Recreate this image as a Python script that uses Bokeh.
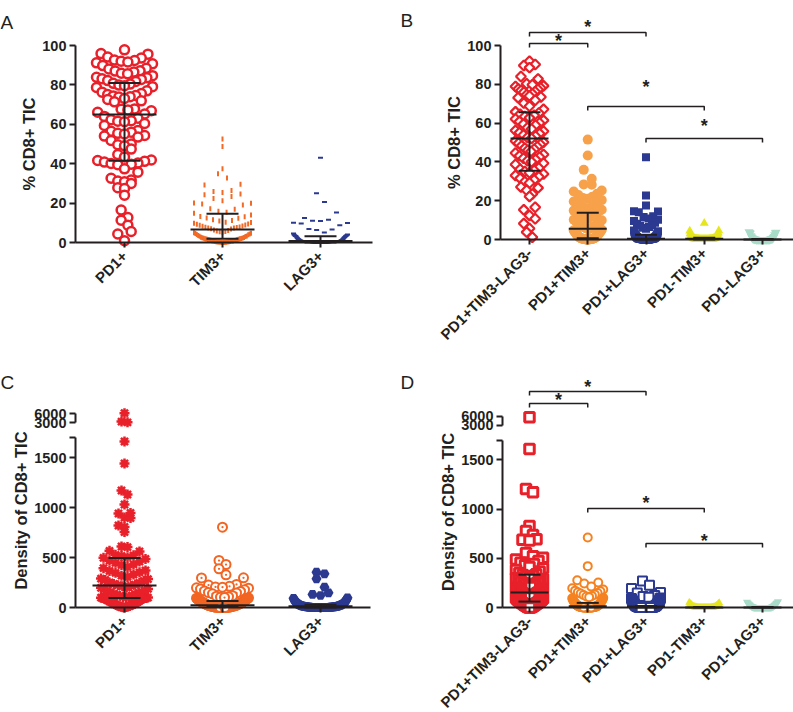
import math
import numpy as np
from bokeh.plotting import figure
from bokeh.models import FixedTicker, LinearAxis
from bokeh.layouts import row, column
from bokeh.embed import file_html
from bokeh.resources import INLINE
from bokeh.core.properties import value

# ------------------------------------------------------------------ data
CATS_3 = ["PD1+", "TIM3+", "LAG3+"]
CATS_5 = ["PD1+TIM3-LAG3-", "PD1+TIM3+", "PD1+LAG3+", "PD1-TIM3+", "PD1-LAG3+"]
PCT_TICKS = [0, 20, 40, 60, 80, 100]
DEN_TICKS = [0, 500, 1000, 1500]
DEN_LOW_TOP = 1700                 # end of the lower axis segment
DEN_BREAK_TICKS = [3000, 6000]     # compressed upper segment
Y_LABEL_PCT = "% CD8+ TIC"
Y_LABEL_DEN = "Density of CD8+ TIC"
SIG_PAIRS = [(1, 2), (1, 3), (2, 4), (3, 5)]
SIG_TEXT = "*"

A_PD1 = [97.8, 95.9, 95.6, 94.1, 93.6, 92.6, 92.4, 92.0, 91.6, 91.2, 90.7, 89.8,
         88.4, 88.1, 87.2, 87.0, 86.5, 85.9, 85.6, 84.7, 83.9, 83.6,
         83.1, 82.8, 82.2, 81.7, 80.8, 80.4, 79.9, 79.6, 79.1, 78.7,
         77.0, 76.3, 75.6, 75.1, 74.6, 74.4, 74.0, 73.8, 73.1, 72.6, 71.9, 71.4,
         67.8, 67.6, 67.3, 66.9, 66.1, 65.2, 64.0, 63.1,
         62.3, 61.8, 61.6, 61.3, 60.4, 59.4,
         56.8, 56.5, 56.0, 55.4, 55.1, 54.3, 54.0, 53.5, 51.8,
         50.0, 49.6, 49.1, 47.4, 44.7,
         43.4, 41.9, 41.6, 41.2, 40.8, 40.3, 40.1, 39.7, 39.5, 37.4, 35.7,
         32.6, 31.7, 31.2, 30.8, 30.0, 27.8, 27.4,
         24.0, 16.5, 12.7, 11.3, 8.8, 5.6, 4.3, 0.9]
A_TIM3 = [52.6, 48.7, 37.4, 34.9, 32.8, 29.6, 29.2, 26.4, 25.9, 25.4, 24.6, 24.2,
          23.4, 22.3, 21.2, 20.1, 19.9, 19.6, 19.0, 17.1, 16.9, 15.8, 15.3, 14.9,
          13.9, 13.2, 13.1, 12.5, 12.3, 11.6, 11.2, 10.9, 10.3, 10.1, 9.8, 9.4,
          9.3, 8.9, 8.7, 8.4, 8.2, 7.9, 7.8, 7.6, 7.4, 7.3, 7.0, 6.8,
          6.4, 6.1, 5.9, 5.6, 5.5, 5.2, 5.0, 4.7, 4.6, 4.3, 4.0, 3.9,
          3.6, 3.3, 3.2, 3.0, 2.7, 2.6, 2.4, 2.3, 2.2, 2.0, 1.9, 1.9,
          1.8, 1.6, 1.5, 1.4, 1.4, 1.2, 1.1, 1.0, 0.9, 0.8, 0.7, 0.7,
          0.6, 0.5, 0.4, 0.4, 0.3, 0.3, 0.2, 0.1, 0.1, 0.0, 0.0, 0.0]
A_LAG3 = [43.0, 25.0, 20.5, 15.2, 12.4, 11.5, 11.0, 10.9, 10.0, 9.9, 9.6, 8.8,
          6.9, 6.6, 6.3, 5.1, 4.6, 4.1, 3.9, 3.7, 3.5, 3.4, 3.3, 3.2,
          3.0, 2.8, 2.6, 2.4, 2.2, 2.0, 1.8, 1.6, 1.5, 1.3, 1.2, 1.1,
          1.0, 0.9, 0.9, 0.8, 0.8, 0.8, 0.7, 0.7, 0.7, 0.7, 0.7, 0.7,
          0.6, 0.6, 0.6, 0.5, 0.5, 0.5, 0.5, 0.4, 0.4, 0.4, 0.4, 0.3,
          0.3, 0.3, 0.3, 0.3, 0.2, 0.2, 0.2, 0.2, 0.2, 0.2, 0.1, 0.1,
          0.1, 0.1, 0.1, 0.1, 0.1, 0.0, 0.0, 0.0, 0.0, 0.0, 0.0, 0.0,
          0.0, 0.0, 0.0, 0.0, 0.0, 0.0, 0.0, 0.0, 0.0, 0.0, 0.0, 0.0]
A_MED = [65.0, 6.6, 0.7]
A_Q1 = [41.5, 1.9, 0.0]
A_Q3 = [81.0, 14.6, 3.2]

B_TN = [91.9, 90.2, 89.7, 88.6, 84.0, 82.8,
        80.3, 79.8, 79.2, 78.9, 78.1, 77.6, 77.3, 76.8, 76.2, 75.9, 75.1, 74.6, 74.0, 73.5, 73.1,
        71.8, 70.3, 68.7, 67.1,
        65.8, 65.2, 64.6, 64.0, 63.4, 62.7, 62.1, 61.4, 60.8, 60.1, 59.5, 58.9,
        57.6, 57.0, 56.2, 55.8, 55.1, 54.6, 53.9, 53.2, 52.6, 52.1,
        50.8, 50.1, 49.6, 49.0, 48.3, 47.8, 47.1, 46.5, 46.0, 45.4,
        44.6, 43.8, 43.1, 42.5, 41.9, 41.2, 40.6, 40.0, 39.3, 38.7,
        36.9, 36.2, 35.6, 35.1, 34.4, 33.8, 33.0, 32.3, 31.5, 30.7, 29.8, 29.1,
        27.1, 26.6, 25.4, 23.5, 22.2,
        16.6, 15.3, 12.4, 10.7, 8.2, 5.7, 3.8, 1.2]
B_PT3 = [51.5, 43.3, 35.9, 31.3, 28.4, 28.2, 25.3, 24.7,
         23.6, 22.9, 22.1, 21.4, 21.0, 20.3, 19.6, 18.9, 18.4, 17.3, 16.8, 16.1, 15.3, 14.9, 14.5, 14.0,
         13.6, 13.1, 12.5, 12.2, 11.6, 11.3, 10.7, 10.2, 9.9, 9.7, 9.2, 8.8, 8.5, 8.1, 7.8, 7.4,
         7.2, 6.9, 6.6, 6.3, 6.1, 5.9, 5.7, 5.5,
         5.3, 5.0, 4.8, 4.7, 4.3, 4.1, 3.8, 3.6, 3.5, 3.2, 2.9, 2.8, 2.5, 2.3, 2.1, 2.0,
         1.8, 1.6, 1.4, 1.3, 1.1, 1.0, 0.9, 0.8,
         0.7, 0.7, 0.6, 0.5, 0.5, 0.4, 0.4, 0.3, 0.3, 0.3, 0.2, 0.2, 0.2, 0.1, 0.1, 0.1,
         0.0, 0.0, 0.0, 0.0, 0.0, 0.0]
B_PL3 = [42.4, 22.7, 17.5, 14.6, 14.4, 14.1, 12.0, 11.6, 10.8, 10.2, 9.5, 8.6,
         8.1, 7.4, 7.2, 6.5, 6.0, 5.5, 4.6, 4.2, 3.9, 3.5, 3.1, 2.8,
         2.5, 2.3, 2.2, 1.9, 1.8, 1.7, 1.5, 1.4, 1.3, 1.2, 1.1, 1.0,
         0.9, 0.9, 0.8, 0.8, 0.7, 0.7, 0.6, 0.6, 0.6, 0.5, 0.5, 0.5,
         0.4, 0.4, 0.4, 0.4, 0.3, 0.3, 0.3, 0.3, 0.3, 0.2, 0.2, 0.2,
         0.2, 0.2, 0.1, 0.1, 0.1, 0.1, 0.1, 0.1, 0.0, 0.0, 0.0, 0.0,
         0.0, 0.0, 0.0, 0.0, 0.0, 0.0, 0.0, 0.0, 0.0, 0.0, 0.0, 0.0]
B_NT3 = [8.4, 4.6, 4.4, 3.4, 3.2, 2.9, 2.7, 2.4, 2.1, 1.9, 1.7, 1.5,
         1.3, 1.2, 1.0, 0.9, 0.8, 0.7, 0.7, 0.6, 0.5, 0.5, 0.4, 0.4,
         0.4, 0.3, 0.3, 0.3, 0.3, 0.2, 0.2, 0.2, 0.2, 0.2, 0.1, 0.1,
         0.1, 0.1, 0.1, 0.1, 0.0, 0.0, 0.0, 0.0, 0.0, 0.0, 0.0, 0.0,
         0.0, 0.0, 0.0, 0.0, 0.0, 0.0, 0.0, 0.0, 0.0, 0.0, 0.0, 0.0]
B_NL3 = [3.9, 3.7, 3.6, 3.4, 3.2, 2.4, 1.9, 1.5, 1.2, 1.0, 0.8, 0.6,
         0.5, 0.4, 0.3, 0.3, 0.2, 0.2, 0.1, 0.1, 0.1, 0.0, 0.0, 0.0,
         0.0, 0.0, 0.0, 0.0, 0.0, 0.0, 0.0, 0.0, 0.0, 0.0, 0.0, 0.0,
         0.0, 0.0, 0.0, 0.0, 0.0, 0.0]
B_MED = [52.0, 5.5, 0.4, 0.4, 0.0]
B_Q1 = [35.5, 0.7, 0.0, 0.0, 0.0]
B_Q3 = [65.6, 13.8, 2.4, 0.9, 0.2]

C_PD1 = [6100, 3300, 3050, 1660, 1440, 1170, 1130, 1030, 945, 940, 900, 895, 820, 805, 755,
         610, 604, 567, 561, 527, 522, 515, 503, 497,
         486, 468, 460, 447, 431, 424, 404, 393, 371, 365, 352, 347,
         330, 318, 305, 289, 284, 276, 266, 251, 247, 236, 229, 223,
         216, 212, 201, 197, 186, 182, 171, 168, 155, 152, 147, 137,
         131, 126, 119, 117, 108, 106, 101, 99, 98, 96, 95, 94,
         91, 88, 82, 79, 71, 68, 64, 57, 53, 48, 44, 37,
         35, 30, 26, 24, 18, 15, 13, 9, 7, 4, 3, 1]
C_T3 = [803, 470, 430, 387, 327, 297, 296, 231, 224, 212, 206, 203, 197, 193, 184, 177,
        166, 161, 150, 146, 137, 118, 113, 108, 103, 100, 97, 93, 91, 87, 86, 81,
        78, 76, 72, 71, 67, 65, 62, 60, 57, 55, 53, 51, 48, 47, 44, 42,
        40, 38, 36, 33, 31, 30, 28, 26, 25, 23, 22, 20, 19, 18, 17, 16,
        15, 14, 13, 12, 11, 10, 9, 8, 7, 6, 5, 5, 4, 4, 3, 3,
        2, 2, 2, 1, 1, 1, 0, 0, 0, 0, 0, 0, 0]
C_L3 = [353, 337, 287, 203, 147, 131, 120, 97, 92, 85, 78, 71, 66, 61, 57, 52,
        49, 46, 43, 40, 37, 35, 33, 31, 28, 27, 25, 23, 21, 20, 19, 18,
        17, 16, 15, 14, 13, 12, 11, 10, 10, 9, 9, 8, 8, 7, 7, 6,
        6, 5, 5, 5, 4, 4, 4, 3, 3, 3, 2, 2, 2, 2, 1, 1,
        1, 1, 1, 0, 0, 0, 0, 0, 0, 0, 0, 0, 0, 0, 0, 0, 0, 0, 0, 0, 0, 0]
C_MED = [220, 22, 12]
C_Q1 = [95, 5, 0]
C_Q3 = [495, 65, 28]

D_TN = [5700, 1610, 1203, 1170, 827, 777, 737, 693, 687, 681, 553, 520,
        505, 488, 472, 455, 441, 428, 412, 398, 381, 366, 350, 338,
        329, 321, 314, 305, 297, 290, 281, 272, 265, 257, 248, 240,
        233, 225, 216, 209, 201, 194, 186, 180, 173, 167, 160, 155,
        150, 146, 141, 137, 132, 128, 124, 119, 114, 110, 106, 102,
        98, 94, 90, 86, 82, 78, 75, 72, 69, 66, 63, 61,
        58, 55, 52, 49, 46, 43, 40, 37, 34, 31, 28, 25,
        22, 20, 17, 15, 12, 10, 8, 6, 4, 3, 1, 0]
D_PT3 = [710, 420, 277, 253, 243, 212, 196, 183, 171, 164, 155, 148,
         141, 133, 126, 118, 112, 105, 99, 94, 88, 83, 77, 72,
         68, 63, 59, 55, 51, 47, 44, 41, 38, 35, 32, 29,
         27, 25, 23, 21, 19, 17, 15, 14, 13, 12, 11, 10,
         9, 8, 7, 6, 6, 5, 5, 4, 4, 3, 3, 2, 2, 2, 1, 1, 1,
         0, 0, 0, 0, 0, 0, 0, 0, 0, 0, 0, 0, 0, 0, 0, 0]
D_PL3 = [270, 227, 193, 153, 148, 121, 112, 104, 97, 91, 85, 79,
         73, 68, 63, 58, 54, 50, 46, 42, 38, 35, 32, 29,
         26, 23, 21, 19, 17, 15, 13, 12, 11, 10, 9, 8,
         7, 6, 5, 5, 4, 4, 3, 3, 2, 2, 1, 1, 1,
         0, 0, 0, 0, 0, 0, 0, 0, 0, 0, 0, 0, 0, 0, 0, 0, 0, 0, 0, 0]
D_NT3 = [52, 47, 43, 39, 35, 31, 28, 25, 22, 19, 16, 14, 12, 10, 8, 7, 6, 5, 4, 3,
         3, 2, 2, 1, 1, 1, 0, 0, 0, 0, 0, 0, 0, 0, 0, 0, 0, 0, 0, 0, 0, 0, 0, 0, 0, 0]
D_NL3 = [61, 55, 50, 46, 42, 38, 34, 30, 27, 24, 21, 18, 15, 13, 11, 9, 8, 6, 5, 4,
         3, 2, 2, 1, 1, 0, 0, 0, 0, 0, 0, 0, 0, 0, 0, 0, 0, 0, 0, 0, 0, 0, 0, 0, 0]
D_MED = [153, 13, 10, 0, 0]
D_Q1 = [60, 3, 0, 0, 0]
D_Q3 = [333, 47, 15, 5, 5]

# ------------------------------------------------------------------ style / layout
FONT = "Liberation Sans"
BLACK = "#231F20"
RED = "#E8202A"
ORANGE_A = "#F26A25"
ORANGE_B = "#F7A24B"
ORANGE_C = "#F26522"
ORANGE_D = "#F58220"
NAVY = "#2B3990"
YELLOW = "#E6E61E"
TEAL = "#A8DCC9"

TICK_FS = "14.5px"
TITLE_FS = "16.5px"
CAT_FS = "15px"

# canvas geometry in pixels, relative to each panel's corner; the frame fills the canvas
GEOM = {
    "A": dict(W=400, H=358, ax=75, right=372, zero=242, ppu=1.97, c1=124, dc=98,
              mw=32, cw=16, letter="A", lb=22),
    "B": dict(W=393, H=358, ax=100, right=393, zero=239, ppu=1.94, c1=129, dc=58.25,
              mw=19, cw=11, letter="B", lb=20),
    "C": dict(W=400, H=354, ax=75, right=370, zero=249, ppu=0.1, c1=124, dc=98,
              mw=32, cw=16, letter="C", lb=24),
    "D": dict(W=393, H=354, ax=102, right=393, zero=249, ppu=0.0985, c1=129, dc=58.25,
              mw=19, cw=11, letter="D", lb=24),
}


def brk(v):
    """broken density axis: 0-1700 linear, 3000-6000 squeezed just above it"""
    v = np.asarray(v, dtype=float)
    return np.where(v <= DEN_LOW_TOP, v, 1850.0 + (v - 3000.0) * 90.0 / 3000.0)


def swarm(y, ppu, dc, step, maxw, binpx):
    """Prism-like scatter: bin by height, lowest values in the middle of each row"""
    y = np.asarray(y, dtype=float)
    b = np.floor(y * ppu / binpx).astype(int)
    off = np.zeros(len(y))
    for k in np.unique(b):
        idx = np.where(b == k)[0]
        idx = idx[np.argsort(y[idx], kind="stable")]
        n = len(idx)
        st = step if n <= 1 else min(step, maxw / (n - 1))
        for r, i in enumerate(idx):
            if n % 2:
                slot = 0 if r == 0 else ((r + 1) // 2) * (-1 if r % 2 else 1)
            else:
                slot = (r // 2 + 0.5) * (-1 if r % 2 else 1)
            off[i] = slot * st
    return off / dc


def mk(marker, size, fill=None, line=None, lw=0, angle=0.0):
    return dict(marker=marker, size=size, fill=fill, line=line, lw=lw, angle=angle)


def style_axis_line(a):
    a.axis_line_width = 2
    a.axis_line_color = BLACK
    a.major_tick_line_width = 2
    a.major_tick_line_color = BLACK
    a.minor_tick_line_color = None


def build(key, cats, groups, styles, med, q1, q3, ylabel, broken,
          brackets=None, stars=None):
    g = GEOM[key]
    W, H = g["W"], g["H"]
    zy, ppu, c1, dc = g["zero"], g["ppu"], g["c1"], g["dc"]

    def X(cx):
        return 1 + (cx - c1) / dc

    def Y(cy):
        return (zy - cy) / ppu

    p = figure(width=W, height=H, x_range=(X(0), X(W)), y_range=(Y(H), Y(0)),
               output_backend="svg", toolbar_location=None, title=None,
               min_border_left=0, min_border_right=0,
               min_border_top=0, min_border_bottom=0)
    p.outline_line_color = None
    p.xgrid.visible = False
    p.ygrid.visible = False
    p.background_fill_color = "white"
    p.border_fill_color = "white"

    n = len(cats)
    xa = p.xaxis[0]
    style_axis_line(xa)
    xa.ticker = FixedTicker(ticks=list(range(1, n + 1)))
    xa.major_label_overrides = {i: c for i, c in enumerate(cats, 1)}
    xa.major_label_orientation = math.pi / 4
    xa.major_label_text_font = FONT
    xa.major_label_text_font_style = "bold"
    xa.major_label_text_font_size = CAT_FS
    xa.major_label_text_color = BLACK
    xa.major_label_standoff = 6
    xa.fixed_location = 0
    xa.bounds = (X(g["ax"]), X(g["right"]))
    xa.major_tick_out = 5
    xa.major_tick_in = 0

    ya = p.yaxis[0]
    style_axis_line(ya)
    ya.fixed_location = X(g["ax"])
    ya.major_tick_out = 6
    ya.major_tick_in = 0
    ya.major_label_text_font = FONT
    ya.major_label_text_font_style = "bold"
    ya.major_label_text_font_size = TICK_FS
    ya.major_label_text_color = BLACK
    ya.major_label_standoff = 3
    ya.axis_label = ylabel
    ya.axis_label_text_font = FONT
    ya.axis_label_text_font_style = "bold"
    ya.axis_label_text_font_size = TITLE_FS
    ya.axis_label_text_color = BLACK
    ya.axis_label_standoff = 1
    if broken:
        up = [float(v) for v in brk(DEN_BREAK_TICKS)]
        ya.ticker = FixedTicker(ticks=DEN_TICKS + [DEN_LOW_TOP] + up)
        ov = {DEN_LOW_TOP: ""}
        for v, lab in zip(up, DEN_BREAK_TICKS):
            ov[v] = str(lab)
        ya.major_label_overrides = ov
        ya.bounds = (0, up[1])
        ya.axis_line_color = None
        # the two visible pieces of the broken axis line
        for b0, b1 in [(0, DEN_LOW_TOP), (up[0], up[1])]:
            seg = LinearAxis(fixed_location=X(g["ax"]), bounds=(b0, b1),
                             ticker=FixedTicker(ticks=[]))
            style_axis_line(seg)
            seg.major_tick_line_color = None
            p.add_layout(seg, "left")
    else:
        ya.ticker = FixedTicker(ticks=PCT_TICKS)
        ya.bounds = (0, 100)

    # points
    for i, (vals, st) in enumerate(zip(groups, styles), 1):
        yv = brk(vals) if broken else np.asarray(vals, dtype=float)
        off = swarm(yv, ppu, dc, st["step"], st["maxw"], st["bin"])
        for m in st["marks"]:
            p.scatter(i + off, yv, marker=m["marker"], size=m["size"],
                      fill_color=m["fill"], line_color=m["line"],
                      line_width=m["lw"], angle=m["angle"])

    # median + interquartile range
    xs = np.arange(1, n + 1, dtype=float)
    mw = g["mw"] / dc
    cw = g["cw"] / dc
    p.segment(x0=xs - mw, x1=xs + mw, y0=med, y1=med, line_width=2, line_color=BLACK)
    p.segment(x0=xs - cw, x1=xs + cw, y0=q1, y1=q1, line_width=2, line_color=BLACK)
    p.segment(x0=xs - cw, x1=xs + cw, y0=q3, y1=q3, line_width=2, line_color=BLACK)
    p.segment(x0=xs, x1=xs, y0=q1, y1=q3, line_width=2, line_color=BLACK)

    # significance brackets
    if brackets:
        tk = 4 / ppu
        xsb, ysb = [], []
        for (i, j), hpx in zip(SIG_PAIRS, brackets):
            yb = hpx / ppu
            xsb.append([i, i, j, j])
            ysb.append([yb - tk, yb, yb, yb - tk])
        p.multi_line(xsb, ysb, line_width=1.5, line_color=BLACK)
        sx = [(i + j) / 2 for (i, j) in SIG_PAIRS]
        sy = [(hpx - 3) / ppu for hpx in stars]
        p.text(x=sx, y=sy, text=[SIG_TEXT] * len(sx), text_font=value(FONT),
               text_font_style="bold", text_font_size="18px",
               text_align="center", text_baseline="middle", text_color=BLACK)

    # panel letter
    p.text(x=[X(0)], y=[Y(g["lb"])], text=[g["letter"]], text_font=value(FONT),
           text_font_size="19px", text_align="left", text_baseline="alphabetic",
           text_color=BLACK)
    return p


STY_A = [
    dict(step=6.7, maxw=56, bin=12, marks=[mk("circle", 9, "white", RED, 2.5)]),
    dict(step=9, maxw=57, bin=10, marks=[mk("dash", 5, None, ORANGE_A, 2, math.pi / 2)]),
    dict(step=8, maxw=54, bin=10, marks=[mk("dash", 5, None, NAVY, 2)]),
]
STY_B = [
    dict(step=5.7, maxw=28, bin=11, marks=[mk("square", 7, "white", RED, 2.2, math.pi / 4)]),
    dict(step=8, maxw=28, bin=10, marks=[mk("circle", 10, ORANGE_B, None, 0)]),
    dict(step=7, maxw=24, bin=10, marks=[mk("square", 8, NAVY, None, 0)]),
    dict(step=6, maxw=29, bin=10, marks=[mk("triangle", 9, YELLOW, None, 0)]),
    dict(step=6, maxw=27, bin=10, marks=[mk("inverted_triangle", 9, TEAL, None, 0)]),
]
STY_C = [
    dict(step=6, maxw=47, bin=10, marks=[mk("circle", 6, RED, None, 0),
                                         mk("asterisk", 10, None, RED, 2.5)]),
    dict(step=7, maxw=52, bin=10, marks=[mk("circle_dot", 9, "white", ORANGE_C, 2)]),
    dict(step=8, maxw=54, bin=10, marks=[mk("hex", 10, NAVY, None, 0)]),
]
STY_D = [
    dict(step=7, maxw=27, bin=10, marks=[mk("square", 9.5, "white", RED, 3)]),
    dict(step=7, maxw=31, bin=10, marks=[mk("circle", 8, "white", ORANGE_D, 2)]),
    dict(step=7, maxw=29, bin=10, marks=[mk("square", 9, "white", NAVY, 2)]),
    dict(step=6, maxw=30, bin=10, marks=[mk("triangle", 8, YELLOW, None, 0)]),
    dict(step=6, maxw=31, bin=10, marks=[mk("inverted_triangle", 8, TEAL, None, 0)]),
]

pA = build("A", CATS_3, [A_PD1, A_TIM3, A_LAG3], STY_A,
           A_MED, A_Q1, A_Q3, Y_LABEL_PCT, False)
pB = build("B", CATS_5, [B_TN, B_PT3, B_PL3, B_NT3, B_NL3], STY_B,
           B_MED, B_Q1, B_Q3, Y_LABEL_PCT, False,
           brackets=[196, 207, 133, 101], stars=[202, 216, 156, 117])
pC = build("C", CATS_3, [C_PD1, C_T3, C_L3], STY_C,
           C_MED, C_Q1, C_Q3, Y_LABEL_DEN, True)
pD = build("D", CATS_5, [D_TN, D_PT3, D_PL3, D_NT3, D_NL3], STY_D,
           D_MED, D_Q1, D_Q3, Y_LABEL_DEN, True,
           brackets=[204, 216, 99, 64], stars=[211, 224, 108, 70])

layout = column(row(pA, pB), row(pC, pD))
open("out.html", "w").write(file_html(layout, INLINE, title="CD8+ TIC"))
